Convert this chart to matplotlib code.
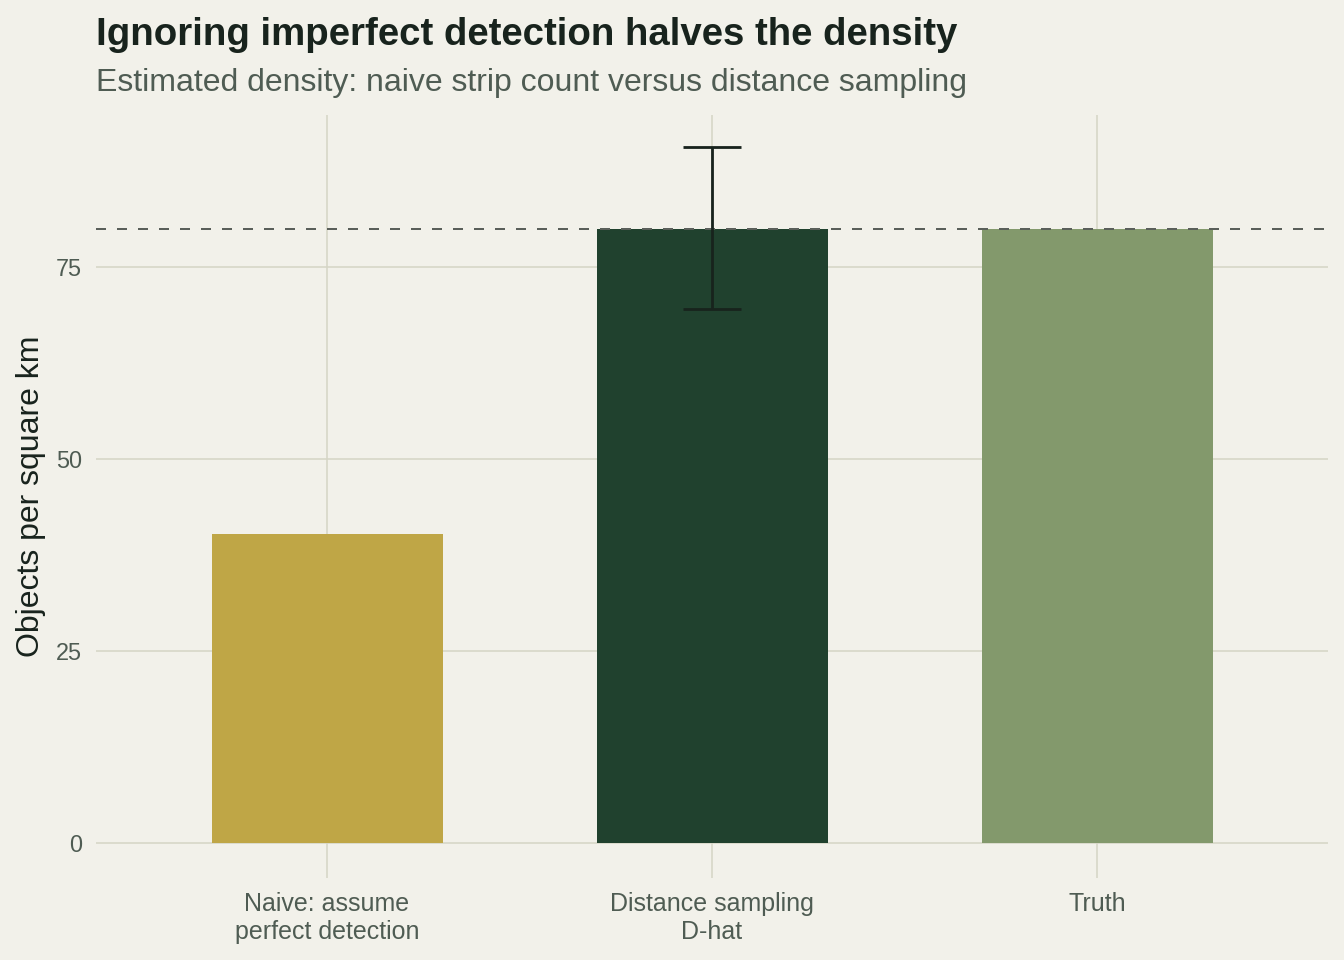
import matplotlib
matplotlib.use("Agg")
import matplotlib.pyplot as plt

categories = ["Naive: assume\nperfect detection", "Distance sampling\nD-hat", "Truth"]
values = [40.2, 80.0, 80.0]
err_low = [None, 69.5, None]
err_high = [None, 90.6, None]
true_density = 80.0
bar_colors = ["#BFA646", "#20412E", "#83996C"]
yticks = [0, 25, 50, 75]

BG = "#F2F1EA"
GRID = "#D6D6C6"
DARK = "#18231D"
MID = "#4F5C53"

plt.rcParams['font.family'] = ['Liberation Sans', 'DejaVu Sans']

def px(v):
    return v * 72 / 96

fig = plt.figure(figsize=(14, 10), dpi=96, facecolor=BG)
ax = fig.add_axes([96/1344, 1 - 878/960, (1328-96)/1344, (878-115)/960])
ax.set_facecolor(BG)

x = list(range(len(categories)))
ax.bar(x, values, width=0.6, color=bar_colors, zorder=2)

ax.axhline(true_density, color="#5A5F5A", lw=px(2), linestyle=(0, (5, 5.5)), zorder=3)

for i in x:
    if err_low[i] is not None:
        mid = values[i]
        ax.errorbar([i], [mid], yerr=[[mid - err_low[i]], [err_high[i] - mid]],
                    fmt='none', ecolor=DARK, elinewidth=px(2.8), capsize=px(29),
                    capthick=px(2.8), zorder=4)

ax.set_xlim(-0.6, 2.6)
ax.set_ylim(-4.55, 94.8)
ax.set_yticks(yticks)
ax.set_xticks(x)
ax.set_xticklabels(categories, linespacing=1.22)
ax.grid(True, color=GRID, lw=px(1.6), zorder=0)
for s in ax.spines.values():
    s.set_visible(False)
ax.tick_params(axis='both', length=0, colors=MID)
ax.tick_params(axis='x', labelsize=px(25), pad=px(14))
ax.tick_params(axis='y', labelsize=px(23.5), pad=px(14))
ax.set_ylabel("Objects per square km", fontsize=px(32), color=DARK, labelpad=px(10))

fig.text(96/1344, 1 - 45/960, "Ignoring imperfect detection halves the density",
         fontsize=px(38.4), fontweight='bold', color=DARK, va='baseline', ha='left')
fig.text(96/1344, 1 - 91/960, "Estimated density: naive strip count versus distance sampling",
         fontsize=px(32), color=MID, va='baseline', ha='left')

fig.savefig("out.png", dpi=96, facecolor=BG)
